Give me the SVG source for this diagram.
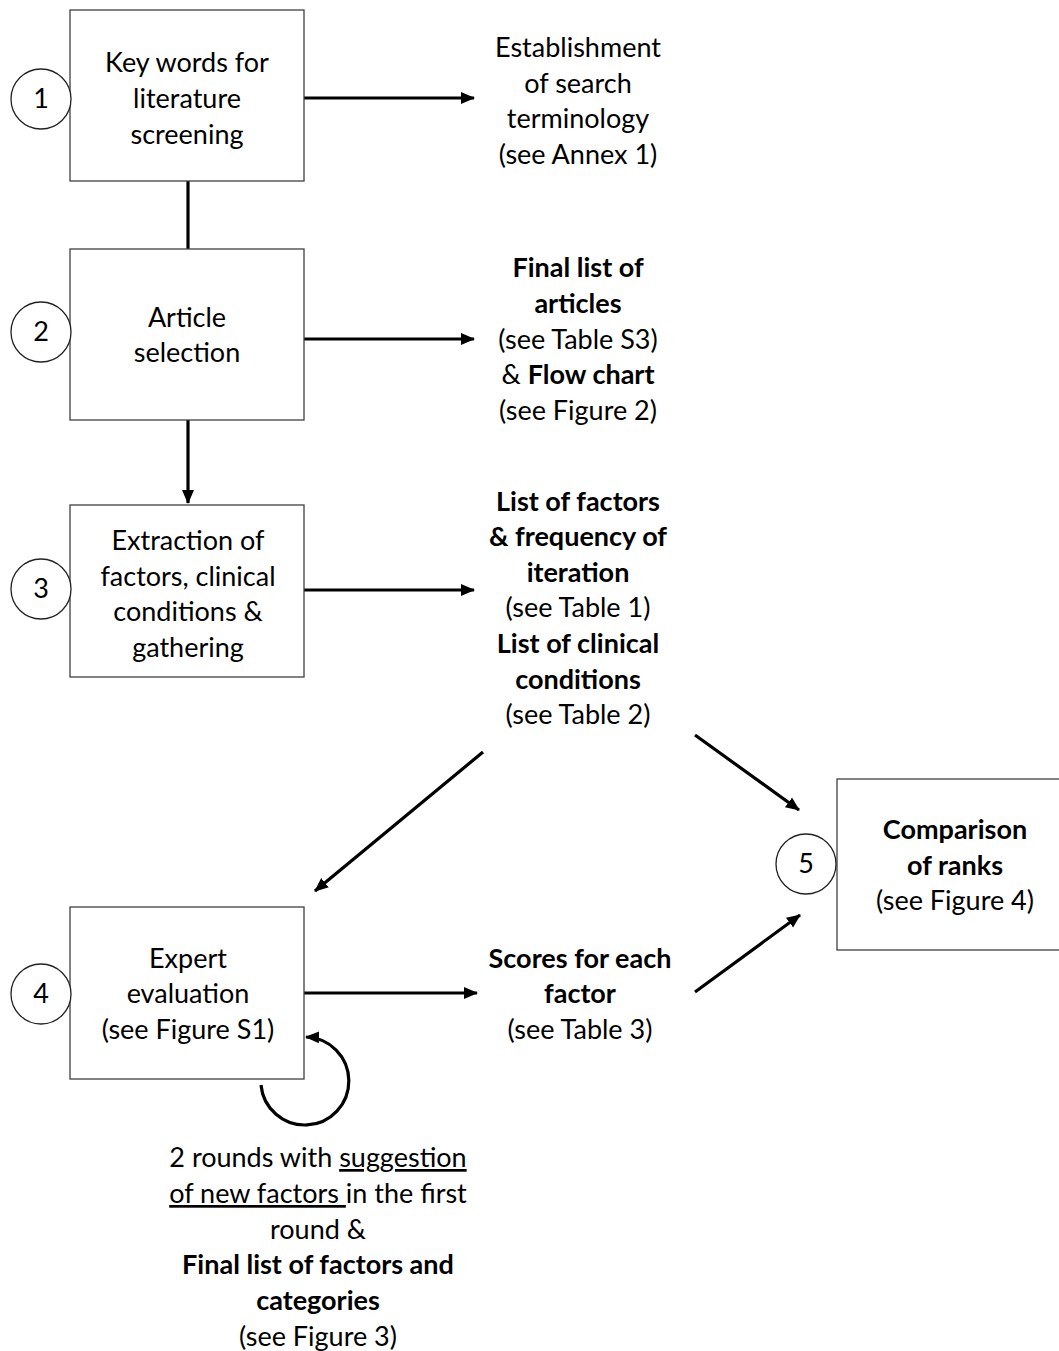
<svg xmlns="http://www.w3.org/2000/svg" width="1059" height="1351" viewBox="0 0 1059 1351">
<style>
.box{fill:#fff;stroke:#404040;stroke-width:1.3}
.num{fill:#fff;stroke:#222;stroke-width:1.3}
text{font-family:Lato,"Open Sans","Liberation Sans",sans-serif;font-size:27px;fill:#000;text-anchor:middle}
.b{font-weight:bold}
.c{stroke:#000;stroke-width:3.2;fill:none}
</style>
<defs>
<marker id="ah" markerUnits="userSpaceOnUse" markerWidth="16" markerHeight="16" viewBox="0 0 16 16" refX="13" refY="8" orient="auto">
<path d="M0,2 L14,8 L0,14 Z" fill="#000"/>
</marker>
</defs>
<g id="connectors">
<line class="c" x1="188" y1="181" x2="188" y2="249"/>
<line class="c" x1="188" y1="420" x2="188" y2="503" marker-end="url(#ah)"/>
<line class="c" x1="304" y1="98" x2="474" y2="98" marker-end="url(#ah)"/>
<line class="c" x1="304" y1="339" x2="474" y2="339" marker-end="url(#ah)"/>
<line class="c" x1="304" y1="590" x2="474" y2="590" marker-end="url(#ah)"/>
<line class="c" x1="304" y1="993" x2="477" y2="993" marker-end="url(#ah)"/>
<line class="c" x1="483" y1="752" x2="315" y2="891" marker-end="url(#ah)"/>
<line class="c" x1="695" y1="735" x2="799" y2="810" marker-end="url(#ah)"/>
<line class="c" x1="695" y1="992" x2="800" y2="915" marker-end="url(#ah)"/>
<path class="c" d="M261,1085 A44,44 0 1 0 306,1037" marker-end="url(#ah)"/>
</g>
<g id="node1">
<rect class="box" x="70" y="10" width="234" height="171"/>
<circle class="num" cx="41" cy="99" r="30"/>
<text x="41" y="108">1</text>
<text x="187" y="72">Key words for</text>
<text x="187" y="108">literature</text>
<text x="187" y="144">screening</text>
</g>
<g id="out1">
<text x="578" y="57">Establishment</text>
<text x="578" y="93">of search</text>
<text x="578" y="128">terminology</text>
<text x="578" y="164">(see Annex 1)</text>
</g>
<g id="node2">
<rect class="box" x="70" y="249" width="234" height="171"/>
<circle class="num" cx="41" cy="332" r="30"/>
<text x="41" y="341">2</text>
<text x="187" y="327">Article</text>
<text x="187" y="362">selection</text>
</g>
<g id="out2">
<text x="578" y="277" class="b">Final list of</text>
<text x="578" y="313" class="b">articles</text>
<text x="578" y="349">(see Table S3)</text>
<text x="578" y="384">&amp; <tspan class="b">Flow chart</tspan></text>
<text x="578" y="420">(see Figure 2)</text>
</g>
<g id="node3">
<rect class="box" x="70" y="505" width="234" height="172"/>
<circle class="num" cx="41" cy="589" r="30"/>
<text x="41" y="598">3</text>
<text x="188" y="550">Extraction of</text>
<text x="188" y="586">factors, clinical</text>
<text x="188" y="621">conditions &amp;</text>
<text x="188" y="657">gathering</text>
</g>
<g id="out3">
<text x="578" y="511" class="b">List of factors</text>
<text x="578" y="546" class="b">&amp; frequency of</text>
<text x="578" y="582" class="b">iteration</text>
<text x="578" y="617">(see Table 1)</text>
<text x="578" y="653" class="b">List of clinical</text>
<text x="578" y="689" class="b">conditions</text>
<text x="578" y="724">(see Table 2)</text>
</g>
<g id="node4">
<rect class="box" x="70" y="907" width="234" height="172"/>
<circle class="num" cx="41" cy="994" r="30"/>
<text x="41" y="1003">4</text>
<text x="188" y="968">Expert</text>
<text x="188" y="1003">evaluation</text>
<text x="188" y="1039">(see Figure S1)</text>
</g>
<g id="out4">
<text x="580" y="968" class="b">Scores for each</text>
<text x="580" y="1003" class="b">factor</text>
<text x="580" y="1039">(see Table 3)</text>
</g>
<g id="loopnote">
<text x="318" y="1167">2 rounds with <tspan text-decoration="underline">suggestion</tspan></text>
<text x="318" y="1203"><tspan text-decoration="underline">of new factors </tspan>in the first</text>
<text x="318" y="1239">round &amp;</text>
<text x="318" y="1274" class="b">Final list of factors and</text>
<text x="318" y="1310" class="b">categories</text>
<text x="318" y="1346">(see Figure 3)</text>
</g>
<g id="node5">
<rect class="box" x="837" y="779" width="230" height="171"/>
<circle class="num" cx="806" cy="864" r="30"/>
<text x="806" y="873">5</text>
<text x="955" y="839" class="b">Comparison</text>
<text x="955" y="875" class="b">of ranks</text>
<text x="955" y="910">(see Figure 4)</text>
</g>
</svg>
